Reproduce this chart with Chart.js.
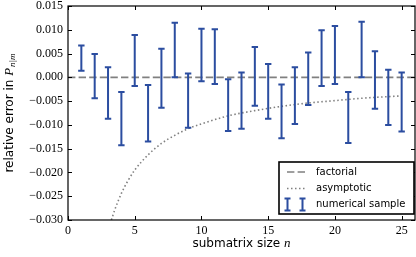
<!DOCTYPE html>
<html>
<head>
<meta charset="utf-8">
<script src="https://cdn.jsdelivr.net/npm/chart.js@4/dist/chart.umd.min.js"></script>
<style>
  html, body { margin: 0; padding: 0; background: #fff; }
  #wrap { width: 416px; height: 257px; position: relative; }
</style>
</head>
<body>
<div id="wrap"><canvas id="chart"></canvas></div>
<script>
// submatrix sizes and the numerical sample error bars (upper / lower ends)
const sizes = [1, 2, 3, 4, 5, 6, 7, 8, 9, 10, 11, 12, 13, 14, 15, 16, 17, 18, 19, 20, 21, 22, 23, 24, 25];
const sampleHigh = [0.0067, 0.0049, 0.0021, -0.0031, 0.0089, -0.0016, 0.0060, 0.0115, 0.0008, 0.0102, 0.0101, -0.0004, 0.0010,
  0.0064, 0.0028, -0.0015, 0.0021, 0.0052, 0.0099, 0.0108, -0.0031, 0.0117, 0.0055, 0.0016, 0.0010];
const sampleLow = [0.0014, -0.0044, -0.0087, -0.0143, -0.0018, -0.0135, -0.0064, 0.0000, -0.0106, -0.0008, -0.0014, -0.0113, -0.0108,
  -0.0060, -0.0087, -0.0128, -0.0098, -0.0058, -0.0018, -0.0014, -0.0138, 0.0000, -0.0066, -0.0100, -0.0114];

// factorial: flat line at zero
const factorialX = [0, 26];
const factorialY = [0, 0];

// asymptotic curve
const asymX = [3.25, 3.5, 4, 4.5, 5, 6, 7, 8, 9, 10, 12, 14, 16, 18, 20, 22, 25];
const asymY = [-0.0300, -0.0279, -0.0244, -0.0217, -0.0195, -0.0163, -0.0139, -0.0122, -0.0108, -0.0098,
  -0.0081, -0.0070, -0.0061, -0.0054, -0.0049, -0.0044, -0.0039];

const xTicks = [0, 5, 10, 15, 20, 25];
const yTicks = [0.015, 0.010, 0.005, 0.000, -0.005, -0.010, -0.015, -0.020, -0.025, -0.030];

const BLUE = '#2b4da0';
const GREY = '#808080';
const SERIF = '"Liberation Serif", "DejaVu Serif", serif';
const SANS = '"DejaVu Sans", sans-serif';

const fmtY = v => (v < 0 ? '\u2212' : '') + Math.abs(v).toFixed(3);

function zip(xs, ys) { return xs.map((x, i) => ({ x: x, y: ys[i] })); }

const errorBars = {
  id: 'errorBars',
  afterDatasetsDraw(chart) {
    const { ctx, scales: { x, y } } = chart;
    ctx.save();
    ctx.strokeStyle = BLUE;
    ctx.lineWidth = 2;
    sizes.forEach((n, i) => {
      const px = x.getPixelForValue(n);
      const top = y.getPixelForValue(sampleHigh[i]);
      const bot = y.getPixelForValue(sampleLow[i]);
      ctx.beginPath();
      ctx.moveTo(px, top); ctx.lineTo(px, bot);
      ctx.moveTo(px - 3.2, top); ctx.lineTo(px + 3.2, top);
      ctx.moveTo(px - 3.2, bot); ctx.lineTo(px + 3.2, bot);
      ctx.stroke();
    });
    ctx.restore();
  }
};

const frame = {
  id: 'frame',
  afterDraw(chart) {
    const { ctx, chartArea: a, scales: { x, y } } = chart;
    ctx.save();
    ctx.strokeStyle = '#000';
    ctx.lineWidth = 1.2;
    ctx.strokeRect(a.left, a.top, a.right - a.left, a.bottom - a.top);
    ctx.lineWidth = 1;
    ctx.beginPath();
    xTicks.forEach(v => {
      const px = Math.round(x.getPixelForValue(v)) + 0.5;
      ctx.moveTo(px, a.bottom); ctx.lineTo(px, a.bottom - 4);
      ctx.moveTo(px, a.top); ctx.lineTo(px, a.top + 4);
    });
    yTicks.forEach(v => {
      const py = Math.round(y.getPixelForValue(v)) + 0.5;
      ctx.moveTo(a.left, py); ctx.lineTo(a.left + 4, py);
      ctx.moveTo(a.right, py); ctx.lineTo(a.right - 4, py);
    });
    ctx.stroke();

    // axis titles
    ctx.fillStyle = '#000';
    ctx.textBaseline = 'middle';
    const xt1 = 'submatrix size ';
    ctx.font = '12px ' + SANS;
    const w1 = ctx.measureText(xt1).width;
    ctx.font = 'italic 13px ' + SERIF;
    const w2 = ctx.measureText('n').width;
    let sx = (a.left + a.right) / 2 - (w1 + w2) / 2;
    ctx.font = '12px ' + SANS;
    ctx.textAlign = 'left';
    ctx.fillText(xt1, sx, 244);
    ctx.font = 'italic 13px ' + SERIF;
    ctx.fillText('n', sx + w1, 244);

    ctx.save();
    ctx.translate(10, (a.top + a.bottom) / 2);
    ctx.rotate(-Math.PI / 2);
    const yt1 = 'relative error in ';
    ctx.font = '12px ' + SANS;
    const v1 = ctx.measureText(yt1).width;
    ctx.font = 'italic 13px ' + SERIF;
    const v2 = ctx.measureText('P').width;
    ctx.font = 'italic 9px ' + SERIF;
    const v3 = ctx.measureText('n|m').width;
    let sy = -(v1 + v2 + v3 + 1) / 2;
    ctx.font = '12px ' + SANS;
    ctx.fillText(yt1, sy, 0);
    ctx.font = 'italic 13px ' + SERIF;
    ctx.fillText('P', sy + v1, 0);
    ctx.font = 'italic 9px ' + SERIF;
    ctx.fillText('n|m', sy + v1 + v2 + 1, 3);
    ctx.restore();

    // legend
    const lw = 135, lh = 52;
    const lx = a.right - 1 - lw, ly = a.bottom - 6 - lh;
    ctx.fillStyle = '#fff';
    ctx.fillRect(lx, ly, lw, lh);
    ctx.strokeStyle = '#000';
    ctx.lineWidth = 1.6;
    ctx.strokeRect(lx, ly, lw, lh);
    const hx0 = lx + 8, hx1 = lx + 26;
    const rows = [ly + 10, ly + 26.5, ly + 42.5];
    ctx.lineWidth = 1.6;
    ctx.strokeStyle = GREY;
    ctx.setLineDash([7.4, 3.2]);
    ctx.beginPath(); ctx.moveTo(hx0, rows[0]); ctx.lineTo(hx1, rows[0]); ctx.stroke();
    ctx.setLineDash([1.5, 2.5]);
    ctx.beginPath(); ctx.moveTo(hx0, rows[1]); ctx.lineTo(hx1, rows[1]); ctx.stroke();
    ctx.setLineDash([]);
    ctx.strokeStyle = BLUE;
    ctx.lineWidth = 2;
    [hx0 + 0.5, hx1 - 2.5].forEach(cx => {
      ctx.beginPath();
      ctx.moveTo(cx, rows[2] - 6); ctx.lineTo(cx, rows[2] + 6);
      ctx.moveTo(cx - 3, rows[2] - 6); ctx.lineTo(cx + 3, rows[2] - 6);
      ctx.moveTo(cx - 3, rows[2] + 6); ctx.lineTo(cx + 3, rows[2] + 6);
      ctx.stroke();
    });
    ctx.fillStyle = '#000';
    ctx.font = '10px ' + SANS;
    ctx.textAlign = 'left';
    ['factorial', 'asymptotic', 'numerical sample'].forEach((t, i) => ctx.fillText(t, lx + 37, rows[i]));
    ctx.restore();
  }
};

new Chart(document.getElementById('chart'), {
  type: 'line',
  data: {
    datasets: [
      {
        label: 'factorial',
        data: zip(factorialX, factorialY),
        borderColor: GREY, borderWidth: 1.6, borderDash: [7.4, 3.2],
        pointRadius: 0
      },
      {
        label: 'asymptotic',
        data: zip(asymX, asymY),
        borderColor: GREY, borderWidth: 1.6, borderDash: [1.5, 2.5],
        cubicInterpolationMode: 'monotone',
        pointRadius: 0
      }
    ]
  },
  options: {
    responsive: true,
    maintainAspectRatio: false,
    animation: false,
    layout: { padding: { top: 6, right: 1, left: 0, bottom: 0 } },
    plugins: { legend: { display: false }, tooltip: { enabled: false } },
    scales: {
      x: {
        type: 'linear', min: 0, max: 26,
        grid: { display: false, drawTicks: false }, border: { display: false },
        afterBuildTicks: s => { s.ticks = xTicks.map(v => ({ value: v })); },
        afterFit: s => { s.height = 37; s.paddingLeft = 0; s.paddingRight = 0; },
        ticks: { font: { family: SERIF, size: 12 }, color: '#000', padding: 4, maxRotation: 0 }
      },
      y: {
        type: 'linear', min: -0.03, max: 0.015,
        grid: { display: false, drawTicks: false }, border: { display: false },
        afterBuildTicks: s => { s.ticks = yTicks.map(v => ({ value: v })); },
        afterFit: s => { s.width = 68; s.paddingTop = 0; s.paddingBottom = 0; },
        ticks: { font: { family: SERIF, size: 12 }, color: '#000', padding: 5, callback: fmtY }
      }
    }
  },
  plugins: [errorBars, frame]
});
</script>
</body>
</html>
